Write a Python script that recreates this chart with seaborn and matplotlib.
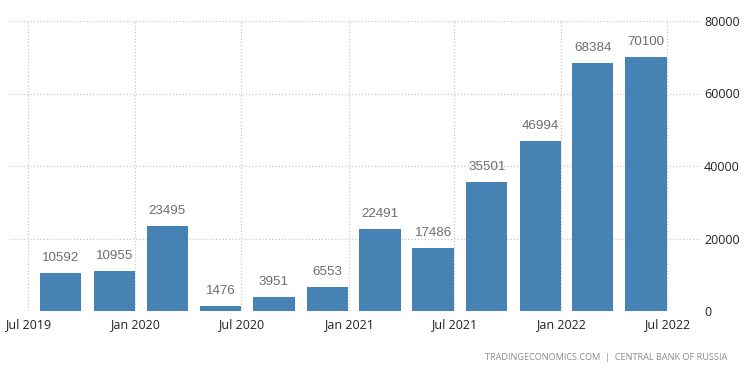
import datetime as dt

import matplotlib
matplotlib.use("Agg")
import matplotlib.pyplot as plt
import matplotlib.dates as mdates
import pandas as pd
import seaborn as sns

# quarterly values, dated at quarter end
quarter_ends = ["2019-09-30", "2019-12-31", "2020-03-31", "2020-06-30",
                "2020-09-30", "2020-12-31", "2021-03-31", "2021-06-30",
                "2021-09-30", "2021-12-31", "2022-03-31", "2022-06-30"]
values = [10592, 10955, 23495, 1476, 3951, 6553, 22491, 17486,
          35501, 46994, 68384, 70100]
y_ticks = [0, 20000, 40000, 60000, 80000]

BAR_COLOR = "#4682b4"

sns.set_theme(style="white")
plt.rcParams["font.family"] = ["Open Sans", "DejaVu Sans"]

# bars end on the quarter-end date, so shift centres back half a bar (~35 days)
dates = pd.to_datetime(quarter_ends)
centres = [mdates.date2num(d) - 35 for d in dates]
df = pd.DataFrame({"x": centres, "value": values})

fig = plt.figure(figsize=(7.5, 3.73), dpi=100)
ax = fig.add_axes([10 / 750, 62 / 373, 690 / 750, 290 / 373])

sns.barplot(data=df, x="x", y="value", native_scale=True, width=0.79,
            color=BAR_COLOR, saturation=1, errorbar=None, linewidth=0, ax=ax)

for x, v in zip(centres, values):
    ax.annotate(str(v), (x, v), xytext=(0, 6.5), textcoords="offset points",
                ha="center", va="bottom", fontsize=9.6, color="#6d6d6d",
                family=["Liberation Sans", "DejaVu Sans"])

ax.set_xlim(mdates.date2num(dt.date(2019, 5, 31)), mdates.date2num(dt.date(2022, 8, 27)))
ax.set_ylim(0, 80000)
ax.set_yticks(y_ticks)
ax.xaxis.set_major_locator(mdates.MonthLocator(bymonth=[1, 7]))
ax.xaxis.set_major_formatter(mdates.DateFormatter("%b %Y"))

ax.yaxis.tick_right()
ax.tick_params(axis="y", length=0, pad=3, labelsize=9, labelcolor="#222222")
ax.tick_params(axis="x", length=0, pad=5, labelsize=9, labelcolor="#222222")
for lab in ax.get_yticklabels():
    lab.set_horizontalalignment("left")

ax.set_xlabel("")
ax.set_ylabel("")
ax.grid(True, linestyle=":", color="#c8c8c8", linewidth=0.9)
ax.set_axisbelow(True)
for s in ax.spines.values():
    s.set_visible(False)

fig.text(727 / 750, 1 - 357 / 373, "TRADINGECONOMICS.COM  |  CENTRAL BANK OF RUSSIA",
         ha="right", va="center", fontsize=6.6, color="#8a8a8a")

fig.savefig("out.png", dpi=100)
